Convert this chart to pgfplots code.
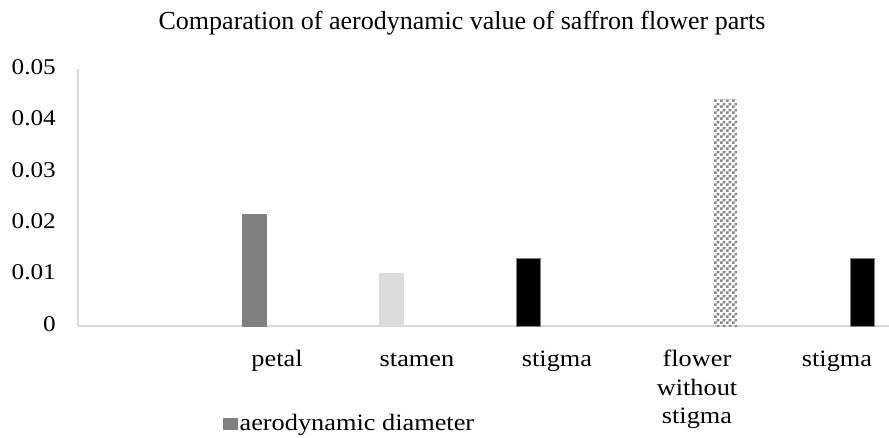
\documentclass[border=0pt]{standalone}
\usepackage{fontspec}
\setmainfont{Liberation Serif}
\newfontfamily\stre{Liberation Serif}[FakeStretch=1.12]
\usepackage{pgfplots}
\pgfplotsset{compat=1.18}
\usetikzlibrary{patterns}
\definecolor{axgray}{RGB}{217,217,217}
\definecolor{bardark}{RGB}{128,128,128}
\definecolor{barlight}{RGB}{220,220,220}
\definecolor{checkgray}{RGB}{136,136,136}
\pgfdeclarepatternformonly{mycheck}{\pgfpointorigin}{\pgfpoint{6pt}{6pt}}{\pgfpoint{6pt}{6pt}}{%
  \pgfpathrectangle{\pgfpointorigin}{\pgfpoint{3pt}{3pt}}%
  \pgfpathrectangle{\pgfpoint{3pt}{3pt}}{\pgfpoint{3pt}{3pt}}%
  \pgfusepath{fill}}
\begin{document}
\begin{tikzpicture}
\useasboundingbox (0,0) rectangle (889pt,437pt);
\begin{axis}[
  at={(78pt,111pt)}, anchor=south west,
  scale only axis, width=811pt, height=257pt,
  xmin=78, xmax=889, ymin=0, ymax=0.05,
  ybar,
  axis lines=left,
  axis line style={draw=axgray, line width=1.3pt, -},
  major tick length=0pt,
  ytick={0,0.01,0.02,0.03,0.04,0.05},
  scaled y ticks=false,
  /pgf/number format/.cd, fixed, precision=2, assume math mode=true, /pgfplots/.cd,
  yticklabel style={font=\stre\fontsize{22.5}{26}\selectfont, inner sep=0pt, xshift=-22pt},
  xtick={277,417,557,697,837},
  xticklabels={petal,stamen,stigma,{flower\\[2pt]without\\[2pt]stigma},stigma},
  typeset ticklabels with strut,
  xticklabel style={font=\stre\fontsize{23.5}{26.5}\selectfont, align=center, anchor=north, inner sep=0pt, yshift=-22pt},
  title={Comparation of aerodynamic value of saffron flower parts},
  title style={font=\fontsize{26}{29}\selectfont, at={(0.4735,1.129)}, anchor=base, inner sep=0pt},
  legend style={draw=none, fill=none, at={(0.1788,-0.379)}, anchor=west, inner sep=0pt,
    font=\stre\fontsize{23.5}{27}\selectfont},
  legend image code/.code={\fill[bardark] (0pt,-5.5pt) rectangle (14pt,5.5pt);},
  clip=false,
]
\addplot[bar shift=0pt, bar width=24pt, fill=bardark, draw=bardark] coordinates {(254,0.0218)};
\addlegendentry{aerodynamic diameter}
\addplot[bar shift=0pt, bar width=24pt, fill=barlight, draw=barlight, forget plot] coordinates {(391,0.0102)};
\addplot[bar shift=0pt, bar width=24pt, fill=black, draw=gray, forget plot] coordinates {(528,0.0132)};
\addplot[bar shift=0pt, bar width=24pt, pattern=mycheck, pattern color=checkgray, draw=none, forget plot] coordinates {(725,0.044)};
\addplot[bar shift=0pt, bar width=24pt, fill=black, draw=gray, forget plot] coordinates {(862,0.0132)};
\end{axis}
\end{tikzpicture}
\end{document}
